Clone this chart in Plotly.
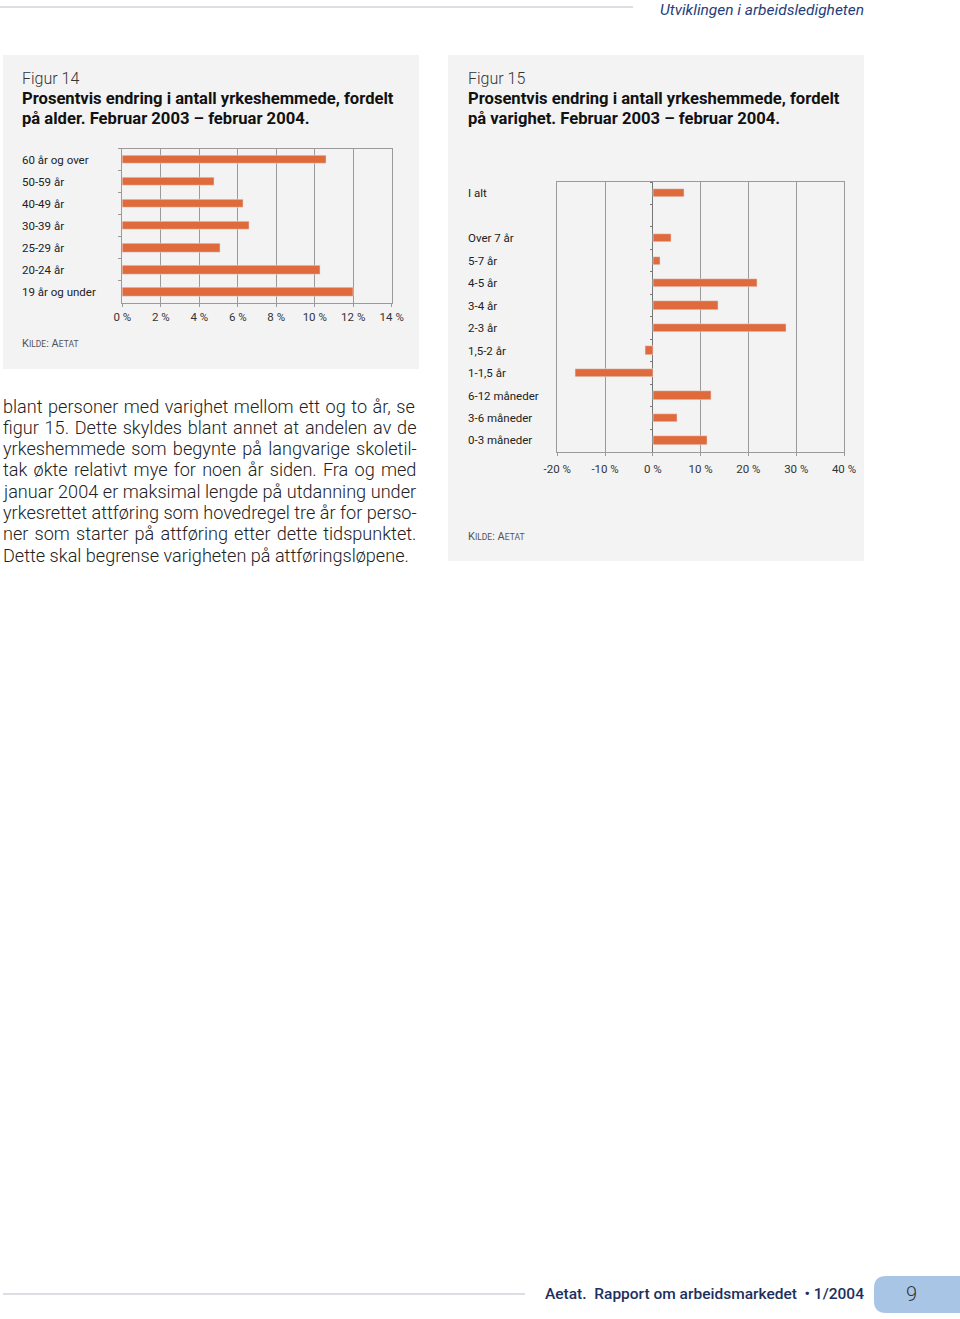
import plotly.graph_objects as go

W, H = 960, 1319

# ---- data ----
age_groups = ["60 år og over", "50-59 år", "40-49 år", "30-39 år", "25-29 år", "20-24 år", "19 år og under"]
age_change = [10.6, 4.8, 6.3, 6.6, 5.1, 10.3, 12.0]
age_ticks = [0, 2, 4, 6, 8, 10, 12, 14]
age_tick_labels = ["0 %", "2 %", "4 %", "6 %", "8 %", "10 %", "12 %", "14 %"]

dur_groups = ["I alt", " ", "Over 7 år", "5-7 år", "4-5 år", "3-4 år", "2-3 år", "1,5-2 år",
              "1-1,5 år", "6-12 måneder", "3-6 måneder", "0-3 måneder"]
dur_change = [6.6, None, 3.8, 1.6, 21.8, 13.7, 28.0, -1.5, -16.2, 12.3, 5.2, 11.4]
dur_ticks = [-20, -10, 0, 10, 20, 30, 40]
dur_tick_labels = ["-20 %", "-10 %", "0 %", "10 %", "20 %", "30 %", "40 %"]

body_lines = [
    "blant personer med varighet mellom ett og to år, se",
    "figur 15. Dette skyldes blant annet at andelen av de",
    "yrkeshemmede som begynte på langvarige skoletil-",
    "tak økte relativt mye for noen år siden. Fra og med",
    "januar 2004 er maksimal lengde på utdanning under",
    "yrkesrettet attføring som hovedregel tre år for perso-",
    "ner som starter på attføring etter dette tidspunktet.",
    "Dette skal begrense varigheten på attføringsløpene.",
]
# extra word spacing (px) to approximate the justified paragraph
body_word_spacing = [1.1, 1.35, 1.8, 1.8, 0.15, 0, 1.7, 0]

FONT = "Roboto"
BAR = "#df6b3d"
PANEL = "#f3f3f3"
GRID = "#9a9a9a"


def px(x):
    return x / W


def py(y):
    return 1 - y / H


fig = go.Figure()
fig.add_trace(go.Bar(x=age_change, y=age_groups, orientation="h", marker_color=BAR,
                     width=0.38, xaxis="x", yaxis="y", showlegend=False, hoverinfo="x+y"))
fig.add_trace(go.Bar(x=dur_change, y=dur_groups, orientation="h", marker_color=BAR,
                     width=0.37, xaxis="x2", yaxis="y2", showlegend=False, hoverinfo="x+y"))
# invisible copy that carries the category tick marks drawn on the zero line
fig.add_trace(go.Bar(x=dur_change, y=dur_groups, orientation="h", marker_color=BAR,
                     marker_opacity=0, width=0.37, xaxis="x2", yaxis="y3",
                     showlegend=False, hoverinfo="skip"))

axis_common = dict(showline=True, linecolor=GRID, linewidth=1, mirror=True,
                   showgrid=True, gridcolor=GRID, gridwidth=1, ticks="outside",
                   ticklen=3, tickcolor=GRID, fixedrange=True, tickmode="array",
                   tickfont=dict(family=FONT, size=11.5, color="#333"))

fig.update_layout(
    width=W, height=H, margin=dict(l=0, r=0, t=0, b=0, autoexpand=False),
    paper_bgcolor="white", plot_bgcolor=PANEL,
    bargap=0,
    xaxis=dict(domain=[px(122.3), px(391.7)], range=[0, 14], anchor="y",
               tickvals=age_ticks, ticktext=age_tick_labels,
               zeroline=False, **axis_common),
    yaxis=dict(domain=[py(303), py(148.5)], type="category", categoryorder="array",
               categoryarray=age_groups, range=[6.5, -0.5], anchor="x",
               showline=True, linecolor=GRID, mirror=True, showgrid=False,
               ticks="outside", ticklen=3, tickcolor=GRID, tickson="boundaries",
               showticklabels=False, fixedrange=True),
    xaxis2=dict(domain=[px(557.3), px(844)], range=[-20, 40], anchor="y2",
                tickvals=dur_ticks, ticktext=dur_tick_labels,
                zeroline=True, zerolinecolor="#777", zerolinewidth=1,
                ticklabelstandoff=3, **axis_common),
    yaxis2=dict(domain=[py(451.7), py(182)], type="category", categoryorder="array",
                categoryarray=dur_groups, range=[11.5, -0.5], anchor="x2",
                showline=True, linecolor=GRID, mirror=True, showgrid=False,
                ticks="", showticklabels=False, fixedrange=True),
    yaxis3=dict(domain=[py(451.7), py(182)], type="category", categoryorder="array",
                categoryarray=dur_groups, range=[11.5, -0.5], overlaying="y2",
                anchor="free", position=px(653), side="left",
                showline=False, showgrid=False, zeroline=False,
                ticks="outside", ticklen=3, tickcolor="#777", tickson="boundaries",
                showticklabels=False, fixedrange=True),
)

shapes = []
# panel backgrounds
shapes.append(dict(type="rect", xref="paper", yref="paper", x0=px(3), x1=px(419),
                   y0=py(369), y1=py(55), fillcolor=PANEL, line_width=0, layer="below"))
shapes.append(dict(type="rect", xref="paper", yref="paper", x0=px(448), x1=px(864),
                   y0=py(561), y1=py(55), fillcolor=PANEL, line_width=0, layer="below"))
# header and footer rules
shapes.append(dict(type="line", xref="paper", yref="paper", x0=px(0), x1=px(633),
                   y0=py(7), y1=py(7), line=dict(color="#b9c0c8", width=1)))
shapes.append(dict(type="line", xref="paper", yref="paper", x0=px(3), x1=px(525),
                   y0=py(1294), y1=py(1294), line=dict(color="#b9c0c8", width=1)))
# page number tab with rounded left corners
r = 12
x0, x1, y0, y1 = 874, 960, 1276, 1313
path = (f"M {px(x1)},{py(y0)} L {px(x0 + r)},{py(y0)} Q {px(x0)},{py(y0)} {px(x0)},{py(y0 + r)} "
        f"L {px(x0)},{py(y1 - r)} Q {px(x0)},{py(y1)} {px(x0 + r)},{py(y1)} L {px(x1)},{py(y1)} Z")
shapes.append(dict(type="path", xref="paper", yref="paper", path=path,
                   fillcolor="#a9c5e6", line_width=0))
fig.update_layout(shapes=shapes)

ann = []


def text(x, y, s, size, color="#222", weight=400, style="normal", xanchor="left", yanchor="middle"):
    ann.append(dict(xref="paper", yref="paper", x=px(x), y=py(y), text=s, showarrow=False,
                    xanchor=xanchor, yanchor=yanchor, borderpad=0, borderwidth=0,
                    font=dict(family=FONT, size=size, color=color, weight=weight, style=style)))


# header / footer
text(864, 0.5, "Utviklingen i arbeidsledigheten", 15.5, color="#1f3f7a", style="italic",
     xanchor="right", yanchor="top")
text(864, 1294, "Aetat.&nbsp; Rapport om arbeidsmarkedet&nbsp; • 1/2004", 15.5, color="#1c2f5e",
     weight=500, xanchor="right")
text(911, 1294, "9", 20, color="#333", weight=300, xanchor="center")

# figure titles
text(22, 78, "Figur 14", 16, color="#333", weight=300)
text(22, 98, "Prosentvis endring i antall yrkeshemmede, fordelt", 16.6, color="#111", weight=700)
text(22, 119, "på alder. Februar 2003 – februar 2004.", 16.6, color="#111", weight=700)
text(468, 78, "Figur 15", 16, color="#333", weight=300)
text(468, 98, "Prosentvis endring i antall yrkeshemmede, fordelt", 16.6, color="#111", weight=700)
text(468, 119, "på varighet. Februar 2003 – februar 2004.", 16.6, color="#111", weight=700)

kilde = ('<span style="font-size:11px">K</span><span style="font-size:8.5px">ILDE</span>'
         '<span style="font-size:11px">: A</span><span style="font-size:8.5px">ETAT</span>')
text(22, 343, kilde, 11, color="#555")
text(468, 536, kilde, 11, color="#555")

# category labels
for g in age_groups:
    ann.append(dict(xref="paper", yref="y", x=px(22), y=g, text=g, showarrow=False,
                    xanchor="left", yanchor="middle", borderpad=0, borderwidth=0,
                    font=dict(family=FONT, size=11.5, color="#222")))
for g in dur_groups:
    if g.strip():
        ann.append(dict(xref="paper", yref="y2", x=px(468), y=g, text=g, showarrow=False,
                        xanchor="left", yanchor="middle", borderpad=0, borderwidth=0,
                        font=dict(family=FONT, size=11.5, color="#222")))

# body text
for i, (line, ws) in enumerate(zip(body_lines, body_word_spacing)):
    s = f'<span style="word-spacing:{ws}px">{line}</span>' if ws else line
    text(3, 406 + i * 21.3, s, 18.1, color="#222", weight=300)

fig.update_layout(annotations=ann)
fig.write_html("out.html")
